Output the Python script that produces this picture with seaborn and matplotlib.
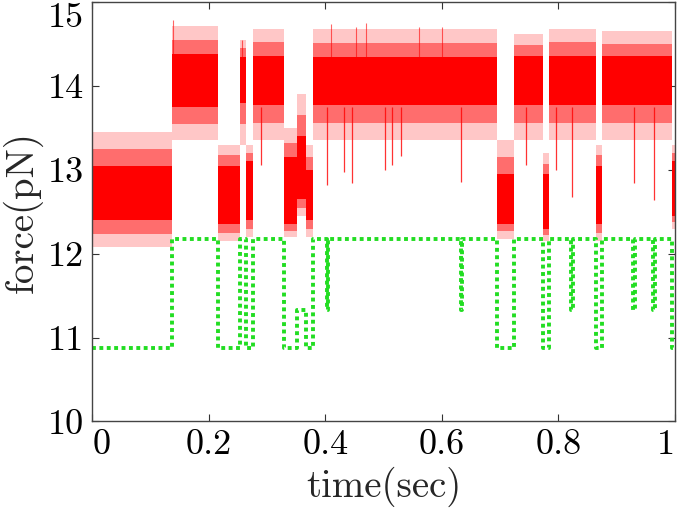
import numpy as np
import seaborn as sns
import matplotlib.pyplot as plt
import pandas as pd

# Green step trace: state level switching times (s) and force (pN)
LOW, MID, HIGH = 10.88, 11.33, 12.17
green_t = [0.0, 0.136, 0.216, 0.253, 0.263, 0.275, 0.329, 0.351, 0.367, 0.378,
           0.402, 0.405, 0.632, 0.635, 0.695, 0.724, 0.773, 0.783, 0.822, 0.825,
           0.865, 0.874, 0.928, 0.931, 0.963, 0.966, 0.995, 1.0]
green_f = [LOW, HIGH, LOW, HIGH, LOW, HIGH, LOW, MID, LOW, HIGH,
           MID, HIGH, MID, HIGH, LOW, HIGH, LOW, HIGH, MID, HIGH,
           LOW, HIGH, MID, HIGH, MID, HIGH, LOW, LOW]

# Red measured force: segment starts with dense band and sparse spike range
red_t = [0.0, 0.136, 0.216, 0.253, 0.263, 0.275, 0.329, 0.351, 0.367, 0.378,
         0.695, 0.724, 0.773, 0.783, 0.865, 0.874, 0.995, 1.0]
core_lo = [12.40, 13.75, 12.35, 13.80, 12.40, 13.77, 12.35, 12.65, 12.40, 13.77,
           12.35, 13.77, 12.30, 13.77, 12.35, 13.77, 12.45, 12.45]
core_hi = [13.05, 14.38, 13.05, 14.35, 13.10, 14.36, 13.15, 13.40, 13.00, 14.35,
           12.95, 14.36, 12.95, 14.36, 13.05, 14.36, 13.10, 13.10]
light_lo = [12.08, 13.35, 12.15, 13.30, 12.20, 13.35, 12.20, 12.45, 12.20, 13.35,
            12.18, 13.35, 12.15, 13.35, 12.15, 13.35, 12.30, 12.30]
light_hi = [13.45, 14.72, 13.30, 14.55, 13.30, 14.68, 13.50, 13.90, 13.30, 14.68,
            13.35, 14.62, 13.20, 14.68, 13.30, 14.65, 13.30, 13.30]

# isolated downward spikes in the high state (time, lowest force)
spike_t = [0.29, 0.403, 0.431, 0.446, 0.503, 0.515, 0.529, 0.633, 0.745, 0.795,
           0.823, 0.929, 0.964]
spike_v = [13.06, 12.82, 12.97, 12.84, 13.00, 13.06, 13.17, 12.86, 13.06, 13.00,
           12.68, 12.84, 12.64]
# upward spikes (time, highest force)
up_t = [0.138, 0.257, 0.41, 0.452, 0.47, 0.56, 0.60]
up_v = [14.79, 14.55, 14.74, 14.70, 14.75, 14.70, 14.70]

green = pd.DataFrame({"time": green_t, "force": green_f})

sns.set_style("ticks")
plt.rcParams["font.family"] = ["cmr10", "DejaVu Serif"]
plt.rcParams["axes.formatter.use_mathtext"] = True

fig = plt.figure(figsize=(6.77, 5.14), dpi=100)
ax = fig.add_axes([0.1366, 0.180, 0.8604, 0.816])

mid_lo = [(a + b) / 2 for a, b in zip(light_lo, core_lo)]
mid_hi = [(a + b) / 2 for a, b in zip(light_hi, core_hi)]
ax.fill_between(red_t, light_lo, light_hi, step="post", color="#ff0000",
                alpha=0.22, linewidth=0)
ax.fill_between(red_t, mid_lo, mid_hi, step="post", color="#ff0000",
                alpha=0.45, linewidth=0)
ax.fill_between(red_t, core_lo, core_hi, step="post", color="#ff0000",
                linewidth=0)
ax.vlines(spike_t, spike_v, 13.75, color="#ff0000", linewidth=0.9, alpha=0.8)
ax.vlines(up_t, 14.3, up_v, color="#ff0000", linewidth=0.8, alpha=0.6)

sns.lineplot(data=green, x="time", y="force", ax=ax, color="#22dd22",
             linewidth=2.8, linestyle=(0, (1, 0.9)), drawstyle="steps-post",
             estimator=None, sort=False)

ax.set_xlim(0, 1.0)
ax.set_ylim(10, 15)
ax.set_xticks([0, 0.2, 0.4, 0.6, 0.8, 1.0])
ax.set_xticklabels(["0", "0.2", "0.4", "0.6", "0.8", "1"])
ax.set_yticks([10, 11, 12, 13, 14, 15])
ax.set_yticklabels(["10", "11", "12", "13", "14", "15"])
ax.tick_params(direction="in", length=5, width=0.8, top=True, right=True,
               labelsize=26, colors="#333333", labelcolor="black", pad=6)
ax.get_xticklabels()[-1].set_horizontalalignment("right")
ax.get_xticklabels()[0].set_horizontalalignment("left")
ax.get_yticklabels()[-1].set_verticalalignment("top")
for s in ax.spines.values():
    s.set_color("#444444")
    s.set_linewidth(1.0)

ax.set_xlabel("time(sec)", fontsize=28, labelpad=4)
ax.set_ylabel("force(pN)", fontsize=28, labelpad=4)

fig.savefig("out.png", dpi=100)
